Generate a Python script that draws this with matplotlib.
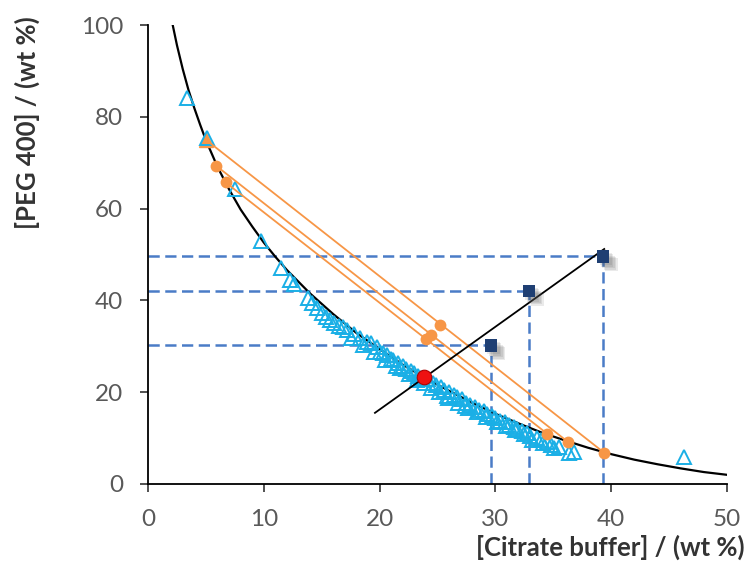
import matplotlib
matplotlib.use("Agg")
import matplotlib.pyplot as plt
import matplotlib.patheffects as pe

plt.rcParams["font.family"] = ["Lato", "DejaVu Sans"]
plt.rcParams["font.size"] = 17

# binodal curve
curve_x = [2.0, 2.5, 3, 3.5, 4, 4.5, 5, 6, 7, 8, 9, 10, 11, 12, 14, 16, 18, 20,
           22, 24, 26, 28, 30, 32, 34, 36, 38, 40, 42, 44, 46, 48, 50]
curve_y = [101.6, 95.6, 90.4, 85.8, 81.9, 78.3, 74.9, 69.1, 64.2, 59.8, 56.1,
           52.6, 49.5, 46.6, 41.5, 37.0, 32.9, 29.4, 26.0, 23.0, 20.3, 17.7,
           15.3, 13.2, 11.2, 9.5, 7.9, 6.5, 5.3, 4.3, 3.4, 2.6, 2.0]

# experimental binodal points
exp_x = [3.4, 5.1, 7.5, 9.8, 11.5, 12.3, 12.6, 13.8, 14.2, 14.6, 15.0, 15.4,
         15.7, 16.1, 16.5, 16.8, 17.2, 17.8, 18.3, 18.9, 19.3, 19.8, 20.0, 20.3,
         20.6, 21.0, 21.2, 21.6, 21.8, 22.0, 22.3, 22.7, 23.0, 23.3, 23.6, 23.8,
         24.2, 24.6, 24.9, 25.3, 25.6, 25.8, 26.0, 26.4, 26.7, 27.1, 27.4, 27.5,
         27.8, 28.2, 28.6, 29.0, 29.3, 29.7, 30.0, 30.4, 30.8, 31.2, 31.6, 31.9,
         32.3, 32.7, 33.2, 33.6, 34.1, 34.5, 35.1, 35.5, 36.4, 36.8, 46.3,
         17.5, 18.6, 19.5, 20.5, 21.4, 22.5, 23.2, 24.4, 25.1, 25.9, 26.8, 27.6,
         28.4, 29.2, 30.1, 30.9, 31.7, 32.5, 33.0, 33.9, 34.8]
exp_y = [84.2, 75.4, 64.3, 52.9, 47.0, 44.4, 43.6, 40.5, 39.4, 38.3, 37.3, 36.4,
         35.7, 35.1, 34.5, 34.2, 33.6, 32.6, 31.8, 31.0, 30.7, 29.8, 28.8, 28.5,
         28.1, 27.3, 27.0, 26.3, 25.2, 25.8, 25.0, 24.6, 24.2, 23.5, 23.0, 22.0,
         22.8, 21.9, 21.5, 21.2, 20.4, 19.2, 20.0, 19.3, 19.0, 18.6, 16.9, 17.7,
         17.3, 16.8, 16.2, 15.8, 15.3, 14.8, 14.4, 13.8, 13.4, 12.8, 12.4, 12.0,
         11.5, 11.1, 9.6, 10.0, 8.9, 9.2, 7.8, 8.0, 6.8, 7.0, 5.9,
         31.9, 30.2, 28.8, 27.0, 25.6, 23.9, 22.6, 21.0, 20.0, 18.8, 17.7, 16.6,
         15.6, 14.6, 13.6, 12.6, 11.7, 10.9, 10.4, 9.6, 8.6]

# tie lines: top phase, mixture point, bottom phase
tie_top_x = [5.0, 5.9, 6.7]
tie_top_y = [75.0, 69.3, 65.7]
tie_mix_x = [25.2, 24.4, 24.0]
tie_mix_y = [34.6, 32.5, 31.6]
tie_bot_x = [39.4, 36.3, 34.5]
tie_bot_y = [6.8, 9.1, 10.9]

# extraction points and the line through them
sq_x = [29.6, 32.9, 39.3]
sq_y = [30.2, 42.0, 49.6]
line_x = [19.6, 39.4]
line_y = [15.5, 51.2]
crit_x = [23.8]
crit_y = [23.4]

orange = "#F79646"
cyan = "#1AAFE6"
navy = "#1F3F73"
dash_blue = "#4A7CC7"

fig = plt.figure(figsize=(7.46, 5.66), dpi=100)
ax = fig.add_axes([0.1984, 0.1449, 0.7761, 0.8109])

for x, y in zip(sq_x, sq_y):
    ax.plot([0, x], [y, y], color=dash_blue, lw=1.8, dashes=(4.5, 2.2), zorder=1)
    ax.plot([x, x], [0, y], color=dash_blue, lw=1.8, dashes=(4.5, 2.2), zorder=1)

ax.plot(curve_x, curve_y, color="black", lw=1.6, zorder=2)

for i in range(len(tie_top_x)):
    ax.plot([tie_top_x[i], tie_bot_x[i]], [tie_top_y[i], tie_bot_y[i]],
            color=orange, lw=1.3, zorder=4)
ax.plot(tie_top_x[:1], tie_top_y[:1], "^", color=orange, ms=10, zorder=3)
ax.plot(tie_top_x[1:] + tie_mix_x + tie_bot_x, tie_top_y[1:] + tie_mix_y + tie_bot_y,
        "o", color=orange, ms=8.5, mec="none", zorder=5)

ax.plot(exp_x, exp_y, "^", mfc="none", mec=cyan, mew=1.4, ms=10, ls="none", zorder=3)

ax.plot(line_x, line_y, color="black", lw=1.3, zorder=6)

# soft drop shadow behind the squares
shadow = [pe.SimplePatchShadow(offset=(d, -d), shadow_rgbFace="#555555", alpha=0.12)
          for d in (6, 5, 4, 3, 2)] + [pe.Normal()]
ax.plot(sq_x, sq_y, "s", color=navy, ms=9, mec="none", ls="none", zorder=7,
        path_effects=shadow)

ax.plot(crit_x, crit_y, "o", color="#EE1111", ms=10.5, mec="#B00000", mew=0.8, zorder=8)

ax.set_xlim(0, 50)
ax.set_ylim(0, 100)
ax.set_xticks(range(0, 51, 10))
ax.set_yticks(range(0, 101, 20))
ax.spines["top"].set_visible(False)
ax.spines["right"].set_visible(False)
for s in ["left", "bottom"]:
    ax.spines[s].set_linewidth(1.3)
ax.tick_params(direction="out", length=6, width=1.2, pad=12, colors="#333333",
               labelcolor="#595959", labelsize=17.5)

fig.text(0.998, 0.01, "[Citrate buffer] / (wt %)", ha="right", va="bottom",
         fontsize=18.5, fontweight="bold", color="#333333")
fig.text(0.036, 0.784, "[PEG 400] / (wt %)", ha="center", va="center", rotation=90,
         fontsize=18.5, fontweight="bold", color="#333333")

fig.savefig("out.png", dpi=100)
